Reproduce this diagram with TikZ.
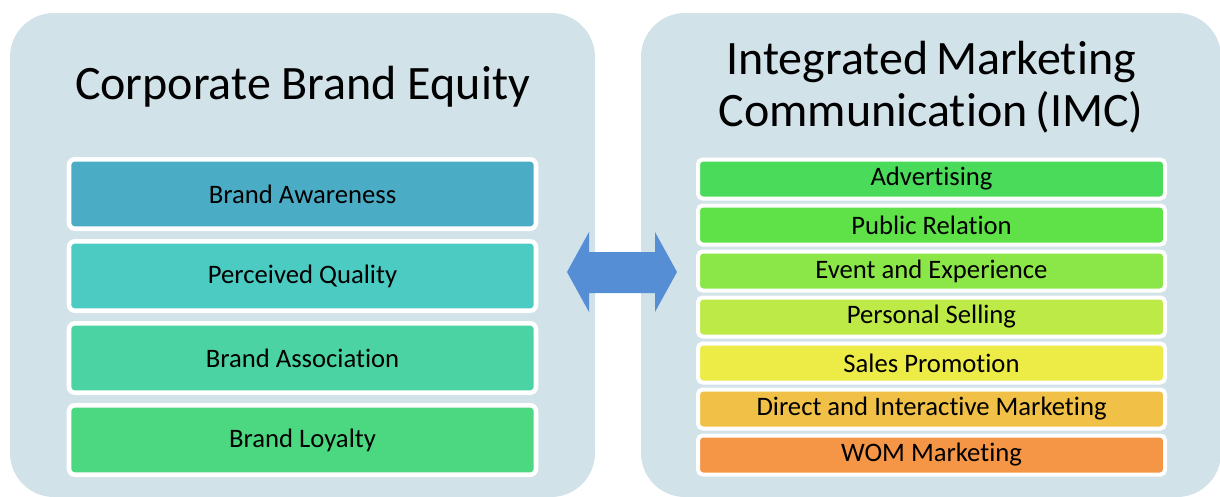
\documentclass[tikz,border=0pt]{standalone}
\usepackage{fontspec}
\setmainfont{Carlito}[Ligatures=NoCommon, RawFeature={-calt}]
\usepackage{xcolor}
\usepackage{tikz}

\definecolor{panelgrey}{RGB}{209,226,233}
\definecolor{arrowblue}{RGB}{85,142,213}
\definecolor{awareness}{RGB}{75,172,198}
\definecolor{quality}{RGB}{75,203,194}
\definecolor{association}{RGB}{75,211,163}
\definecolor{loyalty}{RGB}{75,216,128}
\definecolor{advert}{RGB}{75,219,91}
\definecolor{publicrel}{RGB}{94,226,72}
\definecolor{eventexp}{RGB}{139,230,72}
\definecolor{personal}{RGB}{190,234,72}
\definecolor{salesprom}{RGB}{237,235,70}
\definecolor{directmkt}{RGB}{240,193,70}
\definecolor{wommkt}{RGB}{245,150,70}

\tikzset{
  panel/.style={fill=panelgrey, draw=none, rounded corners=33pt, inner sep=0pt},
  paneltitle/.style={inner sep=0.75pt, align=center, font=\fontsize{36}{38.5}\selectfont},
  equitybox/.style={draw=white, line width=3.4pt, rounded corners=4.5pt,
    minimum width=350.25pt, minimum height=52.1pt, inner sep=0pt,
    font=\fontsize{20}{22}\selectfont},
  imcbox/.style={draw=white, line width=3pt, rounded corners=3.5pt,
    minimum width=350.25pt, minimum height=29.25pt, inner sep=0pt,
    font=\fontsize{20}{22}\selectfont}
}

\begin{document}
\begin{tikzpicture}[x=0.75pt,y=0.75pt,yscale=-1,xscale=1]
\useasboundingbox (0,0) rectangle (1220,496);

%Rounded Rect: left panel
\node [panel, minimum width=438.75pt, minimum height=363pt] (cbe) at (302.5,255) {};
%Rounded Rect: right panel
\node [panel, minimum width=435pt, minimum height=363pt] (imc) at (931,255) {};

% Text Node
\node [paneltitle] (cbetitle) at (302.5,87) {Corporate Brand Equity};
% Text Node
\node [paneltitle] (imctitle) at (931,87) {Integrated\,Marketing\\Communication\,(IMC)};

%Boxes under Corporate Brand Equity
\node [equitybox, fill=awareness] (aware) at (302.5,194) {Brand Awareness};
\node [equitybox, fill=quality] (quality) at (302.5,276) {Perceived Quality};
\node [equitybox, fill=association] (assoc) at (302.5,358) {Brand Association};
\node [equitybox, fill=loyalty] (loyal) at (302.5,440) {Brand Loyalty};

%Boxes under IMC
\node [imcbox, fill=advert] (advert) at (931.5,179) {Advertising};
\node [imcbox, fill=publicrel] (pr) at (931.5,225) {Public Relation};
\node [imcbox, fill=eventexp] (event) at (931.5,271) {Event and Experience};
\node [imcbox, fill=personal] (selling) at (931.5,317) {Personal Selling};
\node [imcbox, fill=salesprom] (promo) at (931.5,363) {Sales Promotion};
\node [imcbox, fill=directmkt] (direct) at (931.5,409) {Direct and Interactive Marketing};
\node [imcbox, fill=wommkt] (wom) at (931.5,455) {WOM Marketing};

%Left-Right Arrow
\fill [arrowblue] (567,272) -- (589,232) -- (589,252) -- (655,252) -- (655,232) -- (677,272) -- (655,312) -- (655,293) -- (589,293) -- (589,312) -- cycle ;

\end{tikzpicture}
\end{document}
